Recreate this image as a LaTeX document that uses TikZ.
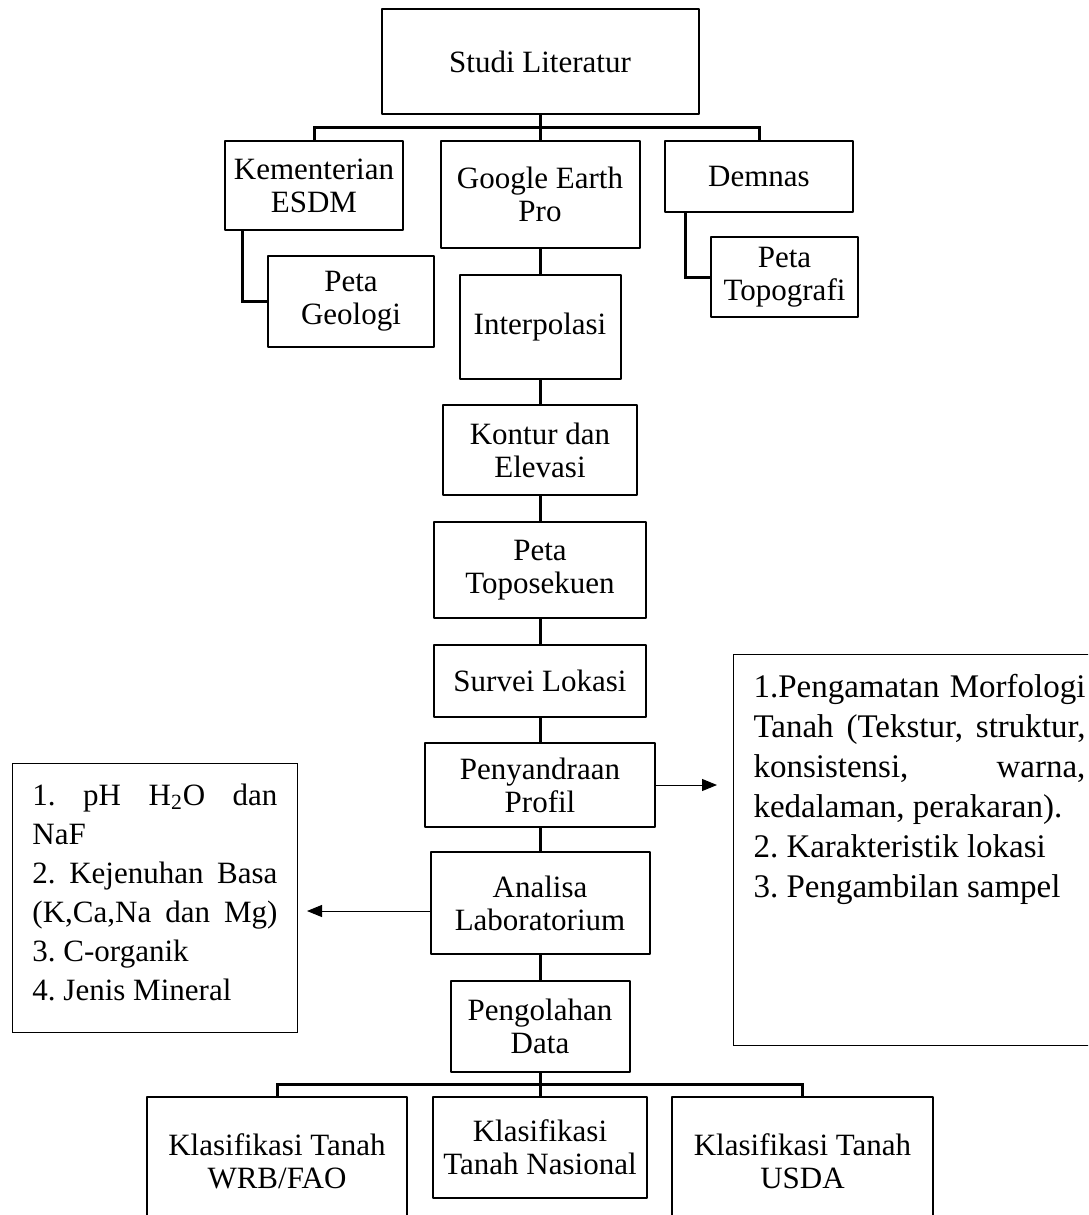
\documentclass[tikz,border=0pt]{standalone}
\usepackage{fontspec}
\setmainfont{Liberation Serif}
\usetikzlibrary{arrows.meta}

\begin{document}
\frenchspacing
\begin{tikzpicture}[x=0.5pt,y=-0.5pt,
  box/.style={draw,line width=1pt,line join=round,align=center,inner sep=0pt,font=\fontsize{15.5}{16.5}\selectfont},
  conn/.style={line width=1.5pt},
  note/.style={draw,line width=0.5pt,anchor=north west,inner xsep=10pt,inner ysep=10pt},
  arr/.style={line width=0.5pt,-{Triangle[length=7.5pt,width=6pt]}}]
\useasboundingbox (0,0) rectangle (1088,1215);
\clip (0,0) rectangle (1088,1215);

\node[box,minimum width=158.5pt,minimum height=52.5pt] (studi) at (540,61.5) {Studi Literatur};
\node[box,minimum width=89pt,minimum height=44.5pt] (kem) at (314,185.5) {Kementerian\\ESDM};
\node[box,minimum width=99.5pt,minimum height=53.5pt] (ge) at (540,194.5) {Google Earth\\Pro};
\node[box,minimum width=94pt,minimum height=35.5pt] (dem) at (759,176.5) {Demnas};
\node[box,minimum width=83pt,minimum height=45.5pt] (geo) at (351,301.5) {Peta\\Geologi};
\node[box,minimum width=73.5pt,minimum height=40pt] (topo) at (784.5,277) {Peta\\Topografi};
\node[box,minimum width=80.5pt,minimum height=52pt] (interp) at (540,327) {Interpolasi};
\node[box,minimum width=97pt,minimum height=45pt] (kontur) at (540,450) {Kontur dan\\Elevasi};
\node[box,minimum width=106pt,minimum height=48pt] (topsek) at (540,570) {Peta\\Toposekuen};
\node[box,minimum width=106pt,minimum height=36pt] (survei) at (540,681) {Survei Lokasi};
\node[box,minimum width=115pt,minimum height=42pt] (pyd) at (540,785) {Penyandraan\\Profil};
\node[box,minimum width=109.5pt,minimum height=51pt] (ana) at (540,903) {Analisa\\Laboratorium};
\node[box,minimum width=89.5pt,minimum height=45.5pt] (olah) at (540,1026.5) {Pengolahan\\Data};
\node[box,minimum width=130pt,minimum height=64pt] (wrb) at (277,1161) {Klasifikasi Tanah\\WRB/FAO};
\node[box,minimum width=107pt,minimum height=50.5pt] (nas) at (540,1147.5) {Klasifikasi\\Tanah Nasional};
\node[box,minimum width=130.5pt,minimum height=64pt] (usda) at (802.5,1161) {Klasifikasi Tanah\\USDA};

\node[note] (lab) at (12,763) {\parbox[t][114.5pt][t]{122.5pt}{\fontsize{15.5}{19.5}\selectfont
  \makebox[\linewidth][s]{1. pH H\textsubscript{2}O dan}\\
  NaF\\
  \makebox[\linewidth][s]{2. Kejenuhan Basa}\\
  \makebox[\linewidth][s]{(K,Ca,Na dan Mg)}\\
  3. C-organik\\
  4. Jenis Mineral}};
\node[note] (obs) at (733,654) {\parbox[t][175.5pt][t]{166pt}{\fontsize{16.5}{20}\selectfont
  \makebox[\linewidth][s]{1.Pengamatan Morfologi}\\
  \makebox[\linewidth][s]{Tanah (Tekstur, struktur,}\\
  \makebox[\linewidth][s]{konsistensi, warna,}\\
  kedalaman, perakaran).\\
  2. Karakteristik lokasi\\
  3. Pengambilan sampel}};

\coordinate (top) at (540,127);
\draw[conn] (studi.south) -- (top);
\draw[conn] (kem.north) |- (top) -| (dem.north);
\draw[conn] (top) -- (ge.north);
\draw[conn] ([xshift=9pt]kem.south west) |- (geo.west);
\draw[conn] ([xshift=10.5pt]dem.south west) |- (topo.west);
\foreach \a/\b in {ge/interp,interp/kontur,kontur/topsek,topsek/survei,survei/pyd,pyd/ana,ana/olah}
  \draw[conn] (\a.south) -- (\b.north);
\coordinate (bot) at (540,1084);
\draw[conn] (olah.south) -- (bot);
\draw[conn] (wrb.north) |- (bot) -| (usda.north);
\draw[conn] (bot) -- (nas.north);

\draw[arr,shorten >=8pt] (pyd.east) -- (pyd.east -| obs.west);
\path (ana.west) ++(0,8) coordinate (anaout);
\draw[arr,shorten >=4.5pt] (anaout) -- (anaout -| lab.east);
\end{tikzpicture}
\end{document}
